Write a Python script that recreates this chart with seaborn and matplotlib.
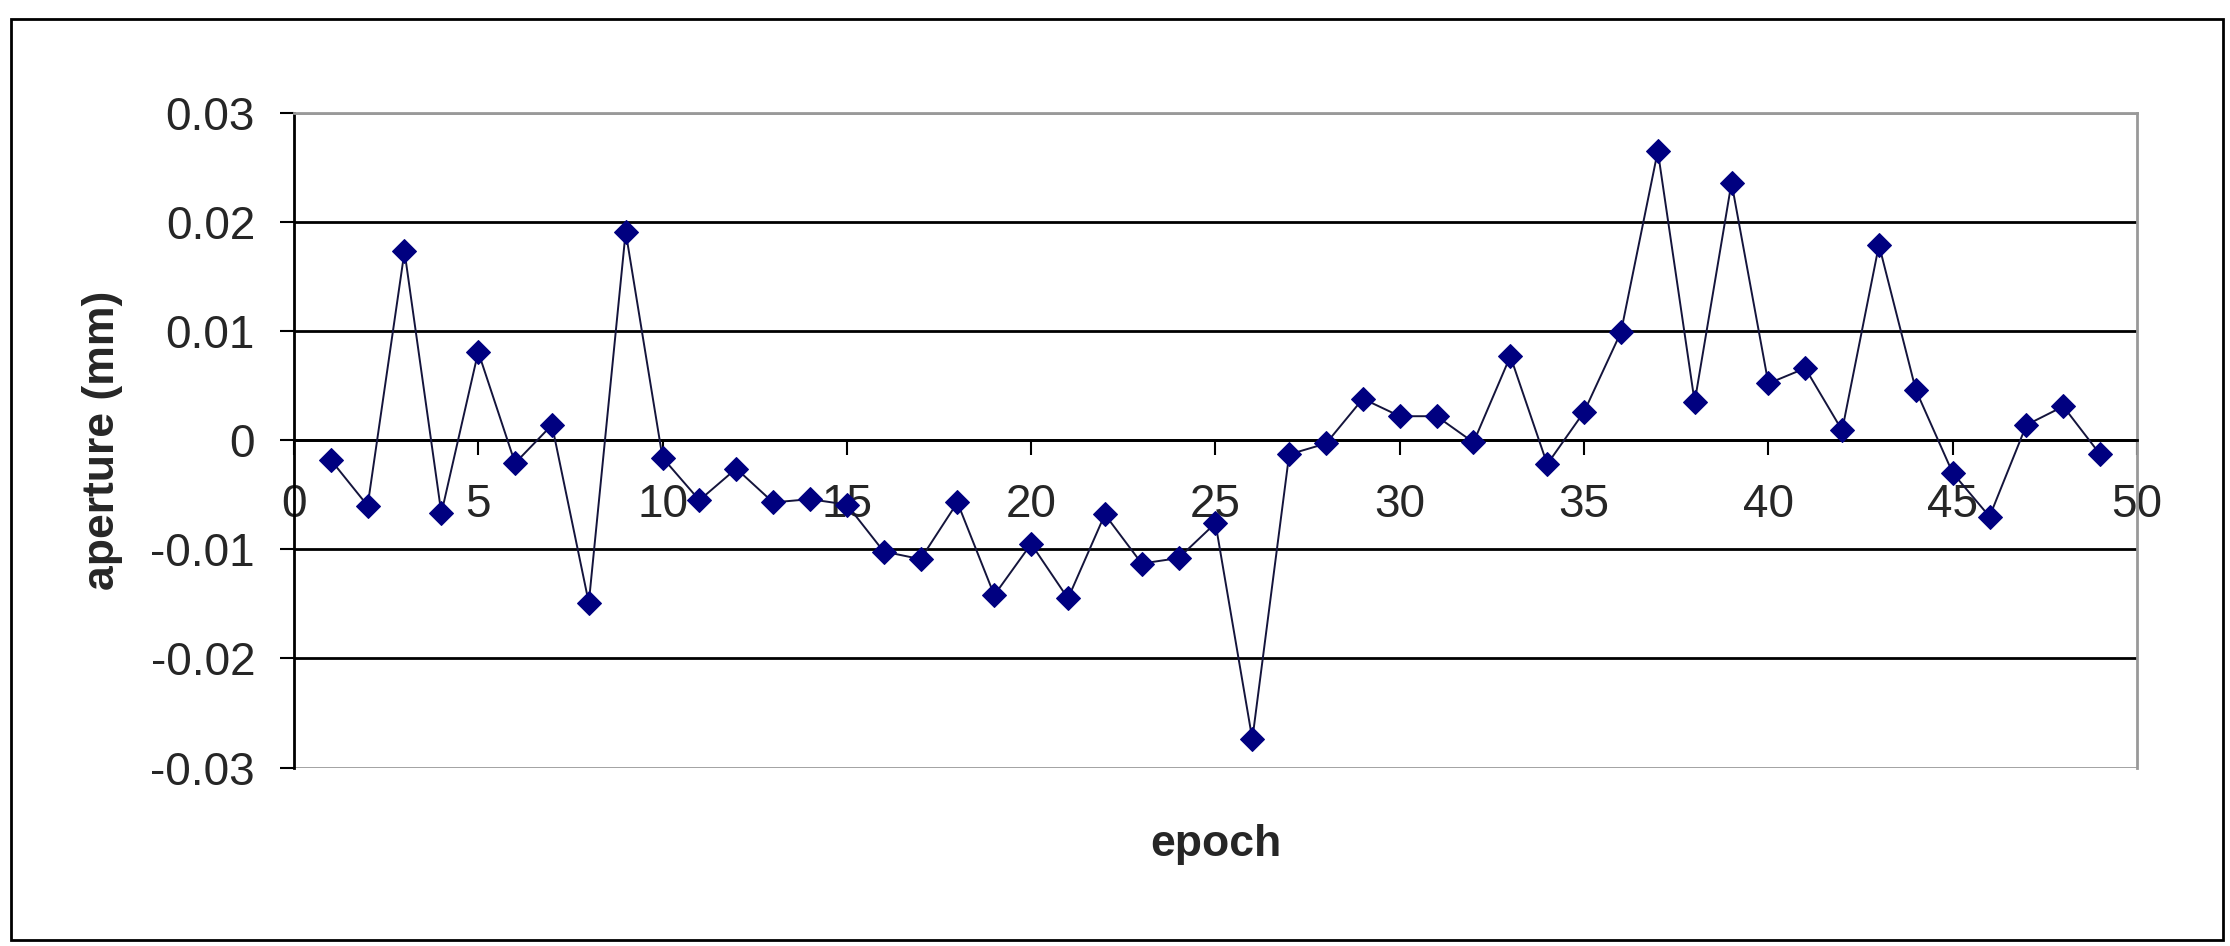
"""
plot.py

Aperture change per epoch, Excel-style line chart with diamond markers.
"""

import numpy as np
import pandas as pd
import seaborn as sns
import matplotlib.pyplot as plt
from matplotlib.patches import Rectangle


EPOCHS = list(range(1, 50))
APERTURE = [
    -0.0018, -0.0060, 0.0173, -0.0067, 0.0081, -0.0021, 0.0014, -0.0149,
    0.0191, -0.0016, -0.0055, -0.0026, -0.0057, -0.0054, -0.0059, -0.0102,
    -0.0109, -0.0057, -0.0142, -0.0095, -0.0145, -0.0068, -0.0113, -0.0108,
    -0.0076, -0.0274, -0.0013, -0.0003, 0.0038, 0.0022, 0.0022, -0.0002,
    0.0077, -0.0022, 0.0026, 0.0099, 0.0265, 0.0035, 0.0236, 0.0052,
    0.0066, 0.0009, 0.0179, 0.0046, -0.0030, -0.0070, 0.0014, 0.0031,
    -0.0013,
]
X_TICKS = [0, 5, 10, 15, 20, 25, 30, 35, 40, 45, 50]
Y_TICKS = [-0.03, -0.02, -0.01, 0, 0.01, 0.02, 0.03]
Y_TICK_LABELS = ["-0.03", "-0.02", "-0.01", "0", "0.01", "0.02", "0.03"]

NAVY = "#000080"
LINE_COLOR = "#14143c"


def main():
    sns.set_style("white")
    plt.rcParams["font.family"] = ["Liberation Sans", "DejaVu Sans"]

    df = pd.DataFrame({"epoch": EPOCHS, "aperture": APERTURE})

    fig = plt.figure(figsize=(22.3, 9.46), dpi=100)
    ax = fig.add_axes([0.1318, 0.1886, 0.8265, 0.6921])

    sns.lineplot(
        data=df,
        x="epoch",
        y="aperture",
        marker="D",
        markersize=12.5,
        color=LINE_COLOR,
        markerfacecolor=NAVY,
        markeredgecolor=NAVY,
        linewidth=1.4,
        ax=ax,
        zorder=5,
    )

    ax.set_xlim(0, 50)
    ax.set_ylim(-0.03, 0.03)
    ax.set_xticks(X_TICKS)
    ax.set_yticks(Y_TICKS)
    ax.set_yticklabels(Y_TICK_LABELS)

    # horizontal gridlines: black inside, grey at the plot-area edges
    ax.yaxis.grid(True, color="black", linewidth=2.0)
    gl = ax.get_ygridlines()
    for line in (gl[0], gl[-1]):
        line.set_color("#999999")
    ax.set_axisbelow(True)

    # x axis crosses at zero
    ax.spines["bottom"].set_position(("data", 0))
    ax.spines["bottom"].set_color("black")
    ax.spines["bottom"].set_linewidth(2.0)
    ax.spines["left"].set_color("black")
    ax.spines["left"].set_linewidth(2.0)
    for side in ("top", "right"):
        ax.spines[side].set_color("#999999")
        ax.spines[side].set_linewidth(2.0)

    ax.tick_params(axis="x", direction="out", length=11, width=1.5,
                   color="black", pad=20, labelsize=33, bottom=True)
    ax.tick_params(axis="y", direction="out", length=10, width=1.5,
                   color="black", pad=18, labelsize=33, left=True)

    ax.set_xlabel("epoch", fontsize=32, fontweight="bold")
    ax.set_ylabel("aperture (mm)", fontsize=32, fontweight="bold")
    ax.xaxis.set_label_coords(0.5, -0.117)
    ax.xaxis.label.set_va("center")
    ax.yaxis.set_label_coords(-0.104, 0.5)
    ax.yaxis.label.set_va("center")

    # outer chart border
    fig.patches.append(
        Rectangle((11 / 2230, 1 - 940 / 946), 2212 / 2230, 921 / 946,
                  transform=fig.transFigure, fill=False,
                  edgecolor="black", linewidth=2.0)
    )

    fig.savefig("out.png", dpi=100)


if __name__ == "__main__":
    main()
